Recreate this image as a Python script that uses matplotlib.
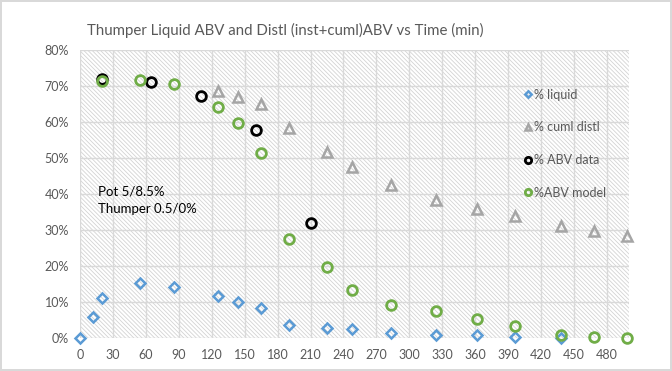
import matplotlib.pyplot as plt
from matplotlib.patches import Rectangle
from matplotlib.ticker import PercentFormatter

plt.rcParams['font.family'] = ['Lato', 'DejaVu Sans']
plt.rcParams['hatch.linewidth'] = 0.6

# % liquid (blue diamonds)
t_liquid = [0, 12, 20, 55, 86, 126, 144, 165, 190, 225, 248, 283, 324, 362, 396, 438]
liquid = [0.0, 5.6, 10.9, 15.1, 14.0, 11.7, 9.8, 8.2, 3.4, 2.8, 2.4, 1.4, 0.8, 0.6, 0.3, 0.0]

# % cuml distl (grey triangles)
t_cuml = [126, 144, 165, 190, 225, 248, 283, 324, 362, 396, 438, 468, 498]
cuml = [68.5, 67.0, 65.0, 58.2, 51.6, 47.4, 42.6, 38.2, 35.9, 33.7, 31.1, 29.7, 28.3]

# % ABV data (black circles)
t_data = [20, 65, 110, 160, 210]
abv_data = [71.9, 71.0, 67.1, 57.8, 32.0]

# %ABV model (green circles)
t_model = [20, 55, 86, 126, 144, 165, 190, 225, 248, 283, 324, 362, 396, 438, 468, 498]
abv_model = [71.5, 71.6, 70.6, 64.3, 59.6, 51.4, 27.5, 19.7, 13.2, 9.2, 7.3, 5.3, 3.1, 0.8, 0.3, 0.0]

fig = plt.figure(figsize=(6.72, 3.71), dpi=100)
fig.patch.set_edgecolor('#d9d9d9')
fig.patch.set_linewidth(1.5)
ax = fig.add_axes([0.119, 0.09, 0.817, 0.775])

# hatched plot area
ax.add_patch(Rectangle((0, 0), 1, 1, transform=ax.transAxes, facecolor='white',
                       edgecolor='#d3d3d3', linewidth=0, hatch='\\' * 8, zorder=0))

ax.plot(t_liquid, liquid, linestyle='none', marker='D', markersize=5,
        markerfacecolor='none', markeredgecolor='#5b9bd5', markeredgewidth=1.8,
        label='% liquid', clip_on=False, zorder=3)
ax.plot(t_cuml, cuml, linestyle='none', marker='^', markersize=6.5,
        markerfacecolor='none', markeredgecolor='#a5a5a5', markeredgewidth=1.8,
        label='% cuml distl', clip_on=False, zorder=3)
ax.plot(t_data, abv_data, linestyle='none', marker='o', markersize=7,
        markerfacecolor='none', markeredgecolor='black', markeredgewidth=2,
        label='% ABV data', clip_on=False, zorder=3)
ax.plot(t_model, abv_model, linestyle='none', marker='o', markersize=7,
        markerfacecolor='none', markeredgecolor='#70ad47', markeredgewidth=2,
        label='%ABV model', clip_on=False, zorder=3)

ax.set_xlim(0, 500)
ax.set_ylim(0, 80)
ax.set_xticks(range(0, 481, 30))
ax.set_yticks(range(0, 81, 10))
ax.yaxis.set_major_formatter(PercentFormatter(decimals=0))
ax.grid(True, color='#d9d9d9', linewidth=1)
ax.set_axisbelow(True)
for s in ax.spines.values():
    s.set_visible(False)
ax.tick_params(length=0, labelsize=9, labelcolor='#595959', pad=8)

ax.text(0.033, 0.53, 'Pot 5/8.5%\nThumper 0.5/0%', transform=ax.transAxes,
        fontsize=9.5, color='black', va='top', linespacing=1.55)

leg = ax.legend(loc='upper left', bbox_to_anchor=(0.79, 0.905), frameon=False,
                handlelength=0.5, handletextpad=0.2, labelspacing=1.65, fontsize=9,
                markerscale=0.65)
for txt in leg.get_texts():
    txt.set_color('#595959')

fig.text(0.424, 0.918, 'Thumper Liquid ABV and Distl (inst+cuml)ABV vs Time (min)',
         ha='center', va='center', fontsize=10.8, color='#595959')

fig.savefig('out.png', dpi=100)
